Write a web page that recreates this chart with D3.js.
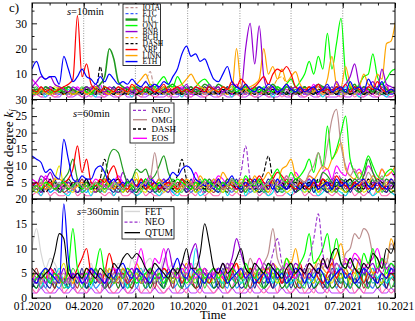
<!DOCTYPE html>
<html>
<head>
<meta charset="utf-8">
<script src="https://cdn.jsdelivr.net/npm/d3@7/dist/d3.min.js"></script>
<style>
html,body{margin:0;padding:0;background:#fff;}
svg{display:block;}
text{font-family:"Liberation Serif","Times New Roman",Times,serif;fill:#000;}
</style>
</head>
<body>
<svg id="chart" width="415" height="321"></svg>
<script>
// ---------------- time grid & tick labels ----------------
const startDate = "2020-01-01";
const endDate = "2021-10-01";
const stepDays = 8;
const xTickLabels = ["01.2020","04.2020","07.2020","10.2020","01.2021","04.2021","07.2021","10.2021"];
const yMajor10 = [10,20,30], yMinor10 = [5,15,25,35];
const yMajor60 = [5,10,15,20,25,30], yMinor60 = [2.5,7.5,12.5,17.5,22.5,27.5];
const yMajor360 = [0,5,10,15,20], yMinor360 = [2.5,7.5,12.5,17.5];

// ---------------- s = 10 min ----------------
const ETH_10 = [12,15,10,8,9,9,6,17,12,7, 9,12,9,8,6,9,7,10,8,6, 7,6,8,6,5,7,5,6,5,7, 6,9,12,18,21,17,18,15,16,12, 8,7,10,13,7,5,4,6,4,3, 5,4,6,5,3,4,6,4,3,5, 3,4,5,3,4,6,3,4,5,3, 7,4,5,3,8,5,4,7,3,4,3];
const XRP_10 = [4,3,5,3,4,3,4,5,6,8, 33,9,14,6,4,3,5,4,3,5, 4,3,6,4,3,5,4,3,4,6, 3,4,5,3,4,3,5,4,3,5, 4,3,5,4,7,5,8,6,4,5, 7,9,6,10,12,11,13,10,5,4, 3,5,4,6,3,4,3,5,4,6, 3,5,4,3,5,4,7,4,3,4,3];
const LTC_10 = [3,4,3,5,4,3,4,3,5,4, 3,4,5,3,4,6,9,20,16,7, 5,4,3,5,4,3,5,4,3,4, 5,6,4,3,4,5,3,4,6,5, 4,6,5,4,3,5,4,6,3,4, 5,3,4,6,4,3,5,4,3,4, 5,3,4,6,5,4,3,5,4,3, 4,6,3,5,4,3,5,6,4,3,4];
const ONT_10 = [2,3,4,3,2,4,3,5,3,2, 3,4,3,2,4,3,5,3,4,3, 4,3,5,4,3,4,6,5,7,9, 6,5,9,6,4,3,5,7,8,6, 4,3,5,4,6,3,4,5,3,4, 3,5,4,3,5,4,6,8,5,7, 10,15,10,17,12,26,12,22,32,10, 5,4,6,9,10,18,9,6,8,11,12];
const BNB_10 = [5,7,9,8,9,6,5,4,3,5, 4,3,5,4,6,4,3,5,4,3, 4,5,3,4,3,5,4,6,4,3, 4,3,5,4,6,3,5,4,3,6, 4,5,3,4,6,5,4,20,30,14, 29,9,4,5,3,4,6,4,5,3, 4,3,5,6,4,5,3,7,4,6, 9,14,6,4,5,7,4,12,6,5,4];
const LINK_10 = [3,2,4,3,2,3,5,4,3,2, 3,4,2,3,5,4,3,2,4,3, 4,3,5,6,8,10,6,4,3,5, 4,3,5,6,8,10,7,5,4,3, 4,3,5,4,4,20,6,4,5,6, 8,20,10,13,8,12,7,9,11,6, 4,5,3,6,4,8,17,6,5,13, 6,4,5,10,6,5,10,8,22,23,31];
const DASH_10 = [3,2,4,3,2,3,4,2,3,2, 3,2,4,3,2,13,4,3,2,3, 2,4,3,2,3,4,2,3,2,3, 4,2,3,2,4,3,2,3,4,2, 3,2,4,3,2,3,2,4,3,2, 3,4,2,3,2,4,3,2,3,2, 4,3,2,3,4,2,3,2,4,3, 2,3,4,2,3,2,4,3,2,3,2];
const IOTA_10 = [2,3,2,3,2,4,2,3,2,3, 2,3,4,2,3,2,3,2,4,3, 2,3,2,3,5,7,11,4,3,2, 3,2,3,4,2,3,2,3,2,4, 2,3,2,3,4,2,3,2,3,2, 4,3,2,3,2,3,4,2,3,2, 3,2,4,3,2,3,2,4,3,2, 3,2,3,4,2,3,2,3,2,4,3];
const BCH_10 = [2,3,2,4,3,2,3,2,3,4, 2,3,2,3,2,4,3,2,3,2, 3,2,4,3,2,3,2,3,4,2, 3,2,3,2,4,3,2,3,2,3, 2,4,3,2,3,2,3,4,2,3, 2,3,4,5,8,9,6,4,3,2, 3,2,3,4,2,3,2,3,4,2, 3,2,4,3,2,3,2,3,4,3,2];
const ETC_10 = [3,2,3,2,4,3,2,3,2,3, 2,4,3,2,3,2,3,4,2,3, 2,3,2,4,3,2,3,2,3,2, 4,3,2,3,2,3,4,2,3,2, 3,2,3,2,4,3,2,3,2,3, 2,3,4,2,3,2,3,2,4,3, 2,3,2,3,4,2,3,2,3,2, 4,3,2,3,2,3,2,4,3,2,3];
const MAG_10 = [8,6,4,3,5,2,3,4,2,3, 5,3,2,4,3,6,2,3,4,2, 3,5,2,3,4,2,5,3,2,4, 3,2,4,5,3,2,3,4,2,3, 5,2,3,4,2,6,3,2,4,3, 2,4,3,5,2,3,4,2,3,5, 2,3,6,2,4,3,2,5,3,2, 4,3,2,5,3,2,4,3,6,2,3];
const CYAN_10 = [2,4,3,1,5,3,2,3,4,2, 3,2,4,3,1,5,3,2,4,3, 2,3,1,4,3,2,3,5,2,3, 4,2,3,1,4,3,2,5,3,2, 3,4,2,3,1,4,3,2,5,3, 2,4,3,1,3,2,5,3,2,4, 3,2,4,3,1,3,2,4,3,5, 2,3,1,4,3,2,4,3,1,3,4];
const YEL_10 = [3,2,4,2,3,5,4,2,3,4, 2,3,5,2,3,2,4,3,2,3, 5,2,3,4,2,3,2,4,3,2, 3,5,2,3,4,2,3,2,4,5, 2,3,2,4,3,2,5,3,2,4, 3,2,3,2,4,3,2,3,5,2, 4,3,2,3,2,4,3,5,2,3, 2,4,3,2,3,5,2,3,4,2,3];
const DKG_10 = [2,3,2,4,3,2,3,4,5,3, 2,4,3,2,3,4,2,3,5,2, 3,2,4,3,2,4,3,2,3,5, 2,3,4,2,3,2,4,3,2,3, 4,2,3,5,2,3,4,2,3,2, 4,3,2,3,4,2,3,5,2,3, 2,4,3,2,5,3,2,3,4,2, 3,2,5,3,2,4,3,2,3,4,2];
const BLK_10 = [3,4,2,3,5,4,3,2,3,4, 2,3,2,4,5,3,2,3,2,4, 3,2,3,2,4,3,5,2,3,2, 4,3,2,3,2,4,3,2,5,3, 2,3,4,2,3,2,3,5,2,4, 3,2,3,4,2,3,2,4,3,2, 5,3,2,4,3,2,3,2,4,3, 2,5,3,2,3,4,2,3,2,4,3];
const PNK_10 = [1,2,1,3,2,1,2,4,1,2, 3,1,2,1,3,2,1,4,2,1, 2,3,1,2,1,3,2,1,2,4, 1,2,3,1,2,1,3,2,1,2, 4,1,2,3,1,2,1,3,2,1, 2,4,1,2,3,1,2,1,3,2, 1,2,4,1,2,1,3,2,1,2, 3,1,2,1,4,2,1,3,2,1,2];
const VIO_10 = [1,2,1,1,2,1,1,3,1,1, 2,1,1,2,1,1,1,2,1,1, 3,1,1,2,1,1,2,1,1,1, 2,1,1,3,1,1,2,1,1,2, 1,1,2,1,1,3,1,1,2,1, 1,2,1,1,1,2,1,1,3,1, 1,2,1,1,2,1,1,1,2,1, 1,3,1,1,2,1,1,2,1,1,2];
const BRN_10 = [2,3,5,3,2,4,3,2,5,3, 2,4,3,5,2,3,4,2,3,5, 2,4,3,2,5,3,2,4,3,2, 5,3,2,4,3,5,2,3,4,2, 3,5,2,3,4,2,5,3,2,4, 3,2,5,3,4,2,3,5,2,4, 3,2,4,5,3,2,4,3,5,2, 3,4,2,5,3,2,4,3,5,2,3];
const NAVY_10 = [4,2,3,5,2,4,3,5,2,3, 4,2,5,3,2,4,3,2,5,3, 4,2,3,5,2,3,4,2,5,3, 2,4,3,2,5,3,4,2,3,5, 2,4,3,5,2,3,2,4,3,5, 2,3,4,2,5,3,2,4,3,2, 4,5,3,2,4,3,5,2,3,4, 2,3,5,2,4,3,2,5,3,4,2];
const GRN2_10 = [3,5,2,3,4,2,5,3,2,4, 3,5,2,4,3,2,5,4,3,2, 4,3,5,2,3,4,2,5,3,4, 2,3,5,4,2,3,5,2,4,3, 5,2,3,4,5,2,3,4,2,5, 3,4,2,3,5,4,2,3,4,2, 5,3,2,4,3,5,2,4,3,2, 5,3,4,2,3,5,2,4,3,2,4];
const SKY_10 = [2,2,3,2,4,2,3,2,2,3, 4,2,3,2,2,4,3,2,3,2, 2,4,2,3,2,3,2,4,2,2, 3,2,4,2,3,2,2,3,4,2, 2,3,2,4,2,2,3,2,4,2, 3,2,2,4,2,3,2,2,3,4, 2,2,3,2,4,2,3,2,2,3, 4,2,2,3,2,4,2,3,2,2,3];

// ---------------- s = 60 min ----------------
const ETH_60 = [13,12,11,8,9,7,6,18,12,6, 5,7,6,6,9,10,8,5,6,4, 5,4,6,3,5,4,6,5,4,5, 6,8,7,9,10,9,6,5,4,5, 3,6,4,5,7,4,3,5,4,6, 3,4,5,3,6,4,3,5,4,3, 5,4,6,3,4,5,3,6,4,5, 3,4,5,6,4,3,5,4,3,6,4];
const XRP_60 = [4,5,3,4,5,3,4,5,6,9, 16,8,12,5,4,6,5,8,10,6, 4,3,5,4,6,3,4,5,3,4, 5,4,3,6,4,5,3,4,5,3, 4,6,3,5,4,3,5,4,6,5, 7,5,4,6,8,7,5,4,3,5, 4,3,5,4,6,5,4,7,5,4, 3,5,4,6,3,4,5,3,4,6,4];
const LTC_60 = [4,3,5,4,3,5,4,6,8,12, 6,4,5,3,4,5,7,13,15,14, 9,5,6,9,8,9,6,7,10,13, 8,5,4,6,5,4,3,5,4,6, 4,5,3,6,4,5,3,4,6,5, 3,4,5,6,4,3,5,4,6,3, 5,4,6,5,8,7,5,4,6,5, 4,6,5,7,12,8,5,4,6,5,4];
const ONT_60 = [3,4,3,5,4,3,4,5,3,4, 5,3,4,3,5,4,3,4,5,4, 3,5,4,3,4,6,4,3,5,4, 3,4,6,5,4,3,5,4,6,5, 4,3,5,4,6,5,4,7,5,4, 6,4,5,7,9,6,5,8,6,7, 9,12,8,14,10,22,12,15,20,25, 12,8,6,9,13,10,7,6,8,9,7];
const OMG_60 = [4,3,5,4,3,4,5,3,4,3, 5,4,3,4,5,3,4,3,5,4, 3,4,5,3,4,5,6,14,6,4, 3,5,4,3,4,5,3,4,5,3, 4,5,3,4,6,4,5,3,4,5, 3,4,5,6,4,5,7,5,4,6, 5,8,10,14,9,16,24,27,16,10, 7,9,6,5,8,6,5,7,4,5,6];
const NEO_60 = [3,4,2,3,4,3,2,4,3,4, 2,3,4,3,2,4,3,5,3,2, 4,3,2,3,5,4,3,2,4,3, 2,4,3,5,3,2,4,3,2,4, 3,5,4,3,2,4,8,16,6,3, 4,3,5,4,3,6,4,3,5,4, 3,5,4,6,4,3,5,8,6,4, 5,3,4,6,4,3,5,4,6,3,4];
const DASH_60 = [3,4,3,2,4,5,3,4,3,5, 4,3,5,4,3,6,12,5,3,4, 3,5,4,3,4,5,3,4,5,3, 4,5,7,12,6,4,3,5,4,3, 5,4,3,4,5,3,4,5,6,4, 5,8,13,6,4,5,3,4,5,3, 4,5,3,6,4,5,3,4,5,4, 3,5,4,3,6,4,5,3,4,5,3];
const EOS_60 = [6,5,4,7,5,4,3,5,4,3, 4,5,3,4,6,5,4,3,5,7, 5,4,6,3,4,5,7,5,4,3, 5,4,3,6,5,4,8,5,4,6, 5,7,6,4,5,3,4,6,5,4, 3,5,4,6,5,4,7,5,8,6, 5,7,6,4,8,9,6,10,8,7, 11,8,9,7,10,8,6,9,7,8,6];
const ORG_60 = [3,4,5,3,4,6,6,5,4,3, 4,5,3,4,5,3,6,4,3,5, 4,3,5,6,4,5,3,4,6,5, 4,5,3,4,6,5,4,7,5,4, 6,5,8,6,5,4,6,5,4,7, 5,6,8,6,5,9,10,12,7,6, 5,7,6,8,10,9,12,14,17,9, 7,6,8,6,5,7,6,9,7,8,10];
const YEL_60 = [3,2,4,5,3,6,10,4,3,2, 4,3,5,2,3,4,2,5,3,4, 2,3,4,8,3,2,4,3,5,2, 3,4,2,3,5,4,2,3,4,2, 3,5,2,4,3,2,5,3,4,2, 3,4,2,5,3,4,2,3,5,4, 2,3,4,2,5,3,2,4,3,2, 4,3,5,2,3,4,2,3,5,3,2];
const CYAN_60 = [2,3,1,4,2,3,5,2,1,3, 4,2,3,1,5,3,2,4,1,3, 2,5,3,1,2,4,3,2,1,3, 5,2,1,3,4,2,3,1,2,5, 3,2,4,1,3,2,5,1,3,2, 4,3,1,2,5,3,2,1,4,3, 2,5,3,1,2,4,6,3,2,1, 3,4,2,5,3,1,2,4,3,2,1];
const DKG_60 = [4,3,2,5,3,4,2,3,6,4, 2,3,5,4,2,3,4,6,3,2, 4,5,3,2,4,3,6,2,3,4, 5,3,2,4,3,5,2,4,3,2, 5,4,3,2,6,3,4,2,5,3, 2,4,3,5,2,4,3,6,2,3, 4,2,5,3,4,2,3,5,4,2, 3,5,2,4,3,6,2,3,4,2,3];
const PUR_60 = [5,4,7,6,8,5,4,3,5,4, 6,3,4,5,3,4,6,5,3,4, 8,5,4,3,6,4,5,3,4,6, 3,5,4,6,3,4,5,3,6,4, 5,3,4,6,5,3,4,5,3,4, 6,4,3,5,4,6,3,5,4,3, 5,6,4,3,5,4,6,3,5,4, 3,5,6,4,3,5,4,6,3,4,5];
const PNK_60 = [1,2,1,3,1,2,1,1,2,3, 1,2,1,1,3,2,1,2,1,3, 1,1,2,1,3,1,2,1,1,2, 3,1,2,1,1,2,1,3,1,2, 1,1,3,2,1,2,1,1,2,3, 1,2,1,3,1,1,2,1,2,3, 1,2,1,1,3,2,1,2,1,1, 3,1,2,1,2,1,3,1,1,2,1];
const BLK_60 = [4,3,5,4,6,3,4,5,3,4, 5,4,6,3,4,5,4,3,5,6, 4,3,5,4,3,6,4,5,3,4, 5,3,4,6,4,3,5,4,3,5, 4,6,3,4,5,3,4,6,5,3, 4,5,3,6,4,5,3,4,6,5, 3,4,5,3,6,4,5,3,4,5, 6,4,3,5,4,3,6,5,4,3,5];
const BRN_60 = [5,3,4,6,3,5,4,2,3,5, 4,6,3,4,2,5,3,6,4,3, 5,2,4,3,6,4,3,5,2,4, 6,3,5,4,2,3,6,4,5,3, 2,4,5,3,6,4,2,3,5,4, 6,3,2,5,4,3,6,4,2,5, 3,4,6,2,5,3,4,2,6,3, 4,5,2,3,6,4,3,5,2,4,3];
const NAVY_60 = [3,5,2,4,3,6,2,4,5,3, 2,4,6,3,5,2,4,3,2,5, 3,6,2,4,5,3,2,4,6,3, 2,5,3,4,2,6,3,5,2,4, 3,2,5,4,3,6,2,4,3,5, 2,3,6,4,2,5,3,4,2,6, 3,5,2,4,3,2,5,4,3,6, 2,4,3,5,2,4,6,3,2,5,3];
const GRN2_60 = [2,4,6,3,5,4,2,3,5,4, 6,2,3,5,4,2,6,3,4,5, 2,4,3,6,2,5,3,4,2,5, 4,6,3,2,5,4,3,6,2,4, 5,3,2,4,6,3,5,2,4,3, 5,2,4,6,3,2,4,5,3,6, 4,3,5,2,4,6,3,2,5,4, 6,3,2,4,5,3,6,2,4,3,5];
const SKY_60 = [4,2,3,5,2,3,4,6,2,3, 5,3,2,4,3,5,2,4,6,3, 2,5,3,2,4,3,5,2,3,6, 4,2,3,5,2,4,3,2,5,3, 6,2,4,3,2,5,3,4,2,3, 5,2,4,3,6,2,3,5,2,4, 3,6,2,4,3,5,2,3,4,2, 5,3,2,4,3,6,2,4,3,5,2];

// ---------------- s = 360 min ----------------
const FET_360 = [10,14,9,6,8,7,5,4,6,5, 4,6,5,7,4,5,6,4,5,7, 6,5,8,6,5,7,8,6,5,8, 6,7,5,6,4,5,7,6,5,4, 6,5,7,4,6,5,4,6,5,7, 5,6,4,7,5,6,8,5,4,6, 5,7,6,4,6,5,7,6,5,8, 6,5,7,6,4,5,7,6,8,5,6];
const QTUM_360 = [6,5,4,5,6,9,13,12,5,4, 5,4,6,5,4,6,5,4,7,6, 8,9,8,9,8,6,5,7,6,5, 4,6,5,7,10,6,6,9,15,11, 6,5,7,5,6,8,10,6,5,7, 6,5,7,6,5,4,6,7,5,6, 5,7,6,5,8,6,9,10,7,6, 8,6,5,7,6,9,8,6,10,9,12];
const NEO_360 = [3,4,2,3,4,3,5,3,4,2, 3,4,3,5,4,3,2,4,3,5, 4,3,5,4,3,6,4,5,3,4, 5,4,6,5,4,3,5,4,6,5, 4,6,5,7,5,4,6,5,4,6, 5,7,6,9,12,7,5,6,5,4, 6,8,12,17,9,6,5,7,6,5, 4,6,5,7,5,4,6,5,7,6,5];
const BLU_360 = [4,3,5,6,5,4,3,19,8,4, 5,3,4,6,5,4,3,5,4,6, 7,5,4,6,5,4,3,5,6,4, 5,6,8,5,4,6,5,4,3,5, 4,6,5,3,4,5,6,4,5,3, 4,5,3,6,4,5,3,4,6,5, 3,5,4,6,5,3,4,5,6,4, 5,3,4,6,5,4,3,5,4,6,5];
const GRN_360 = [3,4,5,4,3,5,4,3,6,14, 6,4,5,3,6,10,5,4,3,5, 4,6,5,3,4,5,6,4,5,3, 5,4,6,5,3,4,5,6,4,5, 6,4,5,3,6,5,4,7,5,4, 6,5,7,4,6,5,8,6,5,7, 9,13,7,8,10,13,8,12,7,6, 8,6,5,9,7,10,6,8,5,7,6];
const RED_360 = [4,3,5,4,6,5,4,3,5,4, 6,8,10,5,4,3,5,9,6,4, 5,3,4,6,5,4,3,5,4,6, 5,4,6,3,5,4,6,5,4,3, 5,6,4,3,5,7,4,5,6,4, 3,5,6,4,5,3,6,4,5,7, 4,5,6,4,3,5,7,4,6,5, 4,6,5,3,5,4,6,5,4,5,4];
const MAG_360 = [3,5,4,3,6,4,5,3,4,5, 4,3,5,6,4,5,3,4,6,5, 4,6,5,7,10,6,5,8,7,10, 6,5,4,6,5,7,4,5,6,4, 5,6,4,5,7,5,6,4,5,6, 8,6,5,4,6,5,7,5,4,6, 5,7,6,5,8,6,5,7,6,8, 7,9,8,6,7,8,10,7,6,5,6];
const PUR_360 = [4,3,5,4,3,5,4,6,3,5, 4,5,3,6,4,5,3,4,5,6, 4,5,6,4,5,3,6,5,4,7, 10,6,5,7,6,9,11,6,5,4, 6,5,7,6,8,12,9,6,5,4, 6,5,4,7,5,6,4,5,7,6, 5,4,6,5,7,6,8,5,6,7, 6,8,7,5,6,7,5,8,6,7,5];
const ROSY_360 = [3,4,3,5,4,3,4,5,3,4, 5,4,3,4,5,3,6,4,5,4, 3,5,4,6,5,4,5,3,6,5, 4,5,6,4,5,3,6,5,4,5, 6,4,5,7,5,4,6,5,8,6, 5,7,9,14,8,6,5,7,6,5, 4,6,5,7,6,8,5,7,6,9, 10,13,12,14,13,9,8,6,7,11,9];
const ORG_360 = [4,3,5,4,6,5,3,4,5,3, 5,4,6,3,5,4,6,5,3,4, 6,5,4,7,5,4,6,5,4,6, 5,4,6,5,7,4,5,6,4,5, 6,5,4,6,5,7,5,4,6,5, 4,6,5,7,6,5,8,7,10,6, 5,7,6,8,6,5,7,9,11,7, 6,5,8,6,7,5,6,8,7,12,9];
const CYAN_360 = [3,4,2,5,3,4,6,3,2,4, 5,3,4,2,5,3,6,4,3,5, 4,2,5,3,4,6,3,5,4,3, 5,4,6,3,5,4,10,6,4,3, 5,4,3,6,4,5,3,4,6,5, 3,4,5,3,6,4,5,3,4,6, 5,3,4,6,5,3,4,5,7,4, 5,6,4,3,5,6,4,5,3,4,5];
const YEL_360 = [4,5,3,6,4,3,5,7,4,3, 5,4,6,3,5,4,3,6,4,5, 3,6,4,5,3,4,6,5,3,4, 5,3,6,4,5,3,4,5,6,3, 4,5,3,6,4,5,3,4,5,6, 3,4,6,5,3,4,5,6,4,3, 5,4,3,6,5,4,3,5,4,6, 3,5,4,3,6,5,4,3,5,4,6];
const DKG_360 = [3,2,4,3,5,2,4,3,2,5, 3,4,2,3,5,4,2,3,4,2, 5,3,2,4,3,5,2,4,3,2, 4,3,5,2,4,3,2,5,3,4, 2,3,5,4,2,3,4,2,5,3, 4,2,3,5,4,2,3,4,2,5, 3,4,2,3,5,4,2,3,5,2, 4,3,2,5,3,4,2,3,4,5,3];
const PNK_360 = [2,1,3,2,1,2,4,1,2,3, 1,2,1,3,2,1,4,2,1,2, 3,1,2,4,1,2,1,3,2,1, 2,3,1,2,1,4,2,1,3,2, 1,2,3,1,2,4,1,2,1,3, 2,1,2,3,1,4,2,1,2,3, 1,2,1,3,2,1,4,2,1,2, 3,1,2,1,3,2,4,1,2,1,2];
const VIO_360 = [1,1,2,1,1,1,2,1,1,2, 1,1,1,2,1,1,2,1,1,1, 2,1,1,2,1,1,1,2,1,1, 2,1,1,1,2,1,1,2,1,1, 1,2,1,1,2,1,1,1,2,1, 1,2,1,1,1,2,1,1,2,1, 1,1,2,1,1,2,1,1,1,2, 1,1,2,1,1,1,2,1,1,2,1];
const TEAL_360 = [5,3,4,6,3,5,4,3,6,4, 3,5,4,6,3,4,5,3,4,6, 5,3,4,5,6,3,4,5,3,6, 4,3,5,4,6,3,5,4,3,5, 6,4,3,5,4,3,6,5,4,3, 5,4,6,3,4,5,3,6,4,5, 3,4,5,6,3,4,5,3,6,4, 5,3,4,6,5,3,4,5,3,6,4];
const BRN_360 = [4,6,3,5,4,2,5,3,6,4, 2,5,3,4,6,3,5,2,4,3, 6,4,2,5,3,4,6,2,5,3, 4,2,6,3,5,4,2,3,6,4, 5,3,2,4,6,3,5,4,2,5, 3,6,4,2,5,3,4,6,3,2, 5,4,3,6,2,4,5,3,2,6, 4,3,5,2,4,6,3,5,2,4,3];
const NAVY_360 = [2,4,5,3,2,6,3,4,2,5, 3,6,2,4,3,5,2,6,3,4, 2,5,3,6,4,2,5,3,4,2, 6,3,5,2,4,3,6,2,5,3, 4,2,6,3,5,4,2,3,6,2, 5,3,4,2,6,3,5,2,4,3, 6,2,4,5,3,2,6,4,3,5, 2,4,3,6,2,5,3,4,2,6,3];
const GRN2_360 = [5,4,2,6,3,4,5,2,3,6, 4,2,5,3,6,4,2,5,3,4, 6,2,3,5,4,2,6,3,5,2, 4,6,3,2,5,4,3,6,2,4, 3,5,2,6,4,3,5,2,4,6, 3,2,5,4,3,6,2,4,5,3, 2,6,4,3,5,2,4,6,3,5, 2,4,6,3,2,5,4,3,6,2,4];
const SKY_360 = [3,2,4,2,5,3,2,4,3,2, 5,3,2,4,2,3,5,2,3,4, 2,3,5,2,4,2,3,5,3,2, 4,2,3,5,2,3,4,2,5,3, 2,4,3,2,5,2,3,4,2,3, 5,2,4,2,3,5,2,3,4,2, 3,5,2,4,2,3,5,2,4,3, 2,4,2,5,3,2,4,3,2,5,2];

// ---------------- styles ----------------
const styles = {
  blue:{c:"#0000ff",w:1.2}, red:{c:"#ff0000",w:1.2}, ltc:{c:"#1f9a1f",w:1.6}, green4:{c:"#1f9a1f",w:1.2},
  lime:{c:"#00ff00",w:1.2}, violet:{c:"#9400d3",w:1.2}, orange:{c:"#ffa500",w:1.2},
  blackDash:{c:"#000000",w:1.1,d:"4,2"}, rosyDash:{c:"#bc8f8f",w:1.1,d:"4,2"},
  orangeDash:{c:"#ffa500",w:1.1,d:"4,2"}, blueDash:{c:"#3a5cff",w:1.1,d:"4,2"},
  violetDash:{c:"#9932cc",w:1.1,d:"4,2"}, rosy:{c:"#bc8f8f",w:1.2}, magenta:{c:"#ff00ff",w:1.2},
  cyan:{c:"#00e0ee",w:1.1}, yellow:{c:"#e6e600",w:1.1}, dkgreen:{c:"#007a00",w:1.1},
  black:{c:"#000000",w:1.1}, pink:{c:"#ff69b4",w:1.1}, violetL:{c:"#c040ff",w:1.1},
  gray:{c:"#d6d6d6",w:1.2}, teal:{c:"#20b2aa",w:1.1}, brown:{c:"#a52a2a",w:1.1},
  navy:{c:"#1a1a9a",w:1.1}, green2:{c:"#32cd32",w:1.1}, sky:{c:"#1e90ff",w:1.1}
};

const panels = [
  { tag:"=10min", tagX:67, tagY:14.5, domain:[0,38], top:3, bottom:99.5, yMajor:yMajor10, yMinor:yMinor10,
    series:[[VIO_10,"violetL"],[PNK_10,"pink"],[SKY_10,"sky"],[CYAN_10,"cyan"],[YEL_10,"yellow"],[DKG_10,"dkgreen"],[BRN_10,"brown"],
            [NAVY_10,"navy"],[GRN2_10,"green2"],[BLK_10,"black"],[MAG_10,"magenta"],
            [ETC_10,"blueDash"],[BCH_10,"orangeDash"],[IOTA_10,"rosyDash"],[DASH_10,"blackDash"],[LTC_10,"ltc"],[ONT_10,"lime"],
            [LINK_10,"orange"],[BNB_10,"violet"],[XRP_10,"red"],[ETH_10,"blue"]],
    legend:{box:[123,4,160.5,65.5], names:["IOTA","ETC","LTC","ONT","BNB","BCH","DASH","XRP","LINK","ETH"],
            keys:["rosyDash","blueDash","ltc","lime","violet","orangeDash","blackDash","red","orange","blue"],
            sx:[125.5,137.5], tx:142.5, y0:10, dy:6, fs:7.6}},
  { tag:"=60min", tagX:73, tagY:117, domain:[0,30], top:99.5, bottom:199, yMajor:yMajor60, yMinor:yMinor60,
    series:[[PNK_60,"pink"],[CYAN_60,"cyan"],[SKY_60,"sky"],[DKG_60,"dkgreen"],[BRN_60,"brown"],[NAVY_60,"navy"],[GRN2_60,"green2"],
            [BLK_60,"black"],[PUR_60,"violet"],[YEL_60,"yellow"],[EOS_60,"magenta"],
            [NEO_60,"violetDash"],[DASH_60,"blackDash"],[ORG_60,"orange"],[LTC_60,"green4"],[XRP_60,"red"],[ETH_60,"blue"],
            [ONT_60,"lime"],[OMG_60,"rosy"]],
    legend:{box:[130,103,174,143], names:["NEO","OMG","DASH","EOS"], keys:["violetDash","rosy","blackDash","magenta"],
            sx:[133,147], tx:151.5, y0:113.3, dy:9.3, fs:9}},
  { tag:"=360min", tagX:77, tagY:215, domain:[0,20], top:199, bottom:298, yMajor:yMajor360, yMinor:yMinor360,
    series:[[VIO_360,"violetL"],[FET_360,"gray"],[PNK_360,"pink"],[SKY_360,"sky"],[DKG_360,"dkgreen"],[TEAL_360,"teal"],[BRN_360,"brown"],
            [NAVY_360,"navy"],[GRN2_360,"green2"],[YEL_360,"yellow"],[CYAN_360,"cyan"],
            [ORG_360,"orange"],[RED_360,"red"],[MAG_360,"magenta"],[PUR_360,"violet"],[ROSY_360,"rosy"],[GRN_360,"lime"],
            [BLU_360,"blue"],[NEO_360,"violetDash"],[QTUM_360,"black"]],
    legend:{box:[122,206.7,174,239], names:["FET","NEO","QTUM"], keys:["gray","violetDash","black"],
            sx:[124.5,140], tx:145, y0:214.5, dy:10.6, fs:9.5}}
];

// ---------------- drawing ----------------
const svg = d3.select("#chart");
const parseDate = d3.utcParse("%Y-%m-%d");
const t0 = parseDate(startDate), t1 = parseDate(endDate);
const x = d3.scaleUtc().domain([t0, t1]).range([32, 395]);
const xMajor = d3.utcMonth.every(3).range(t0, d3.utcDay.offset(t1, 1));
const xMinor = d3.utcMonth.range(t0, d3.utcDay.offset(t1, 1));
const defs = svg.append("defs");

function styleTicks(g){
  g.select(".domain").remove();
  g.selectAll("line").attr("stroke","#000").attr("stroke-width",0.9);
  g.selectAll("text").attr("font-family","Liberation Serif, Times New Roman, serif").attr("font-size",11.5).attr("fill","#000");
}

panels.forEach((p, pi) => {
  const y = d3.scaleLinear().domain(p.domain).range([p.bottom, p.top]);
  const g = svg.append("g");
  defs.append("clipPath").attr("id","clip"+pi).append("rect")
    .attr("x", x.range()[0]).attr("y", p.top).attr("width", x.range()[1]-x.range()[0]).attr("height", p.bottom-p.top);

  // dotted vertical grid at major dates
  g.append("g").selectAll("line").data(xMajor.slice(1, -1)).join("line")
    .attr("x1", d => x(d)).attr("x2", d => x(d)).attr("y1", p.top).attr("y2", p.bottom)
    .attr("stroke","#8a8a8a").attr("stroke-width",0.9).attr("stroke-dasharray","1,1.5");

  // series
  const lg = g.append("g").attr("clip-path", `url(#clip${pi})`);
  const line = d3.line()
    .x((d, i) => x(d3.utcDay.offset(t0, i*stepDays)))
    .y(d => y(d))
    .curve(d3.curveMonotoneX);
  p.series.forEach(([vals, key]) => {
    const st = styles[key];
    lg.append("path").attr("d", line(vals)).attr("fill","none")
      .attr("stroke", st.c).attr("stroke-width", st.w)
      .attr("stroke-dasharray", st.d || null).attr("stroke-linejoin","round");
  });

  // frame
  g.append("rect").attr("x", x.range()[0]).attr("y", p.top)
    .attr("width", x.range()[1]-x.range()[0]).attr("height", p.bottom-p.top)
    .attr("fill","none").attr("stroke","#000").attr("stroke-width",1);

  // y axes (inward ticks)
  const yl = g.append("g").attr("transform", `translate(${x.range()[0]},0)`)
    .call(d3.axisLeft(y).tickValues(p.yMajor).tickSizeInner(-5).tickSizeOuter(0).tickPadding(5).tickFormat(d3.format("d")));
  styleTicks(yl);
  const ylm = g.append("g").attr("transform", `translate(${x.range()[0]},0)`)
    .call(d3.axisLeft(y).tickValues(p.yMinor).tickSizeInner(-2.5).tickSizeOuter(0).tickFormat(""));
  styleTicks(ylm);
  const yr = g.append("g").attr("transform", `translate(${x.range()[1]},0)`)
    .call(d3.axisRight(y).tickValues(p.yMajor).tickSizeInner(-5).tickSizeOuter(0).tickFormat(""));
  styleTicks(yr);
  const yrm = g.append("g").attr("transform", `translate(${x.range()[1]},0)`)
    .call(d3.axisRight(y).tickValues(p.yMinor).tickSizeInner(-2.5).tickSizeOuter(0).tickFormat(""));
  styleTicks(yrm);

  // x ticks on top and bottom of every panel
  [[d3.axisTop, p.top],[d3.axisBottom, p.bottom]].forEach(([ax, yy]) => {
    const a1 = g.append("g").attr("transform", `translate(0,${yy})`)
      .call(ax(x).tickValues(xMajor).tickSizeInner(-5).tickSizeOuter(0).tickFormat(""));
    styleTicks(a1);
    const a2 = g.append("g").attr("transform", `translate(0,${yy})`)
      .call(ax(x).tickValues(xMinor).tickSizeInner(-2.5).tickSizeOuter(0).tickFormat(""));
    styleTicks(a2);
  });

  // panel tag  s=..min
  const tt = g.append("text").attr("x", p.tagX).attr("y", p.tagY).attr("font-size", 10.5);
  tt.append("tspan").attr("font-style","italic").text("s");
  tt.append("tspan").text(p.tag);

  // legend
  const L = p.legend;
  const lgG = g.append("g");
  lgG.append("rect").attr("x", L.box[0]).attr("y", L.box[1]).attr("width", L.box[2]-L.box[0]).attr("height", L.box[3]-L.box[1])
    .attr("fill","#fff").attr("stroke","#000").attr("stroke-width",0.8);
  L.names.forEach((nm, k) => {
    const st = styles[L.keys[k]];
    const by = L.y0 + k*L.dy;
    lgG.append("line").attr("x1", L.sx[0]).attr("x2", L.sx[1]).attr("y1", by - L.fs*0.32).attr("y2", by - L.fs*0.32)
      .attr("stroke", st.c).attr("stroke-width", L.keys[k]==="ltc" ? 2.4 : st.w + 0.2).attr("stroke-dasharray", st.d ? "3,2" : null);
    lgG.append("text").attr("x", L.tx).attr("y", by).attr("font-size", L.fs).text(nm);
  });
});

// x labels under bottom panel
const pb = panels[2];
const xl = svg.append("g").attr("transform", `translate(0,${pb.bottom})`)
  .call(d3.axisBottom(x).tickValues(xMajor).tickSize(0).tickPadding(3.5).tickFormat((d, i) => xTickLabels[i]));
styleTicks(xl);

// titles
svg.append("text").attr("x", 9).attr("y", 12).attr("font-size", 13).text("c)");
svg.append("text").attr("x", 213).attr("y", 319).attr("text-anchor","middle").attr("font-size", 12.5).text("Time");
const yt = svg.append("text").attr("transform","translate(13,148) rotate(-90)").attr("text-anchor","middle").attr("font-size", 13.5);
yt.append("tspan").text("node degree ");
yt.append("tspan").attr("font-style","italic").text("k");
yt.append("tspan").attr("font-style","italic").attr("font-size", 9.5).attr("dy", 3).text("j");
</script>
</body>
</html>
